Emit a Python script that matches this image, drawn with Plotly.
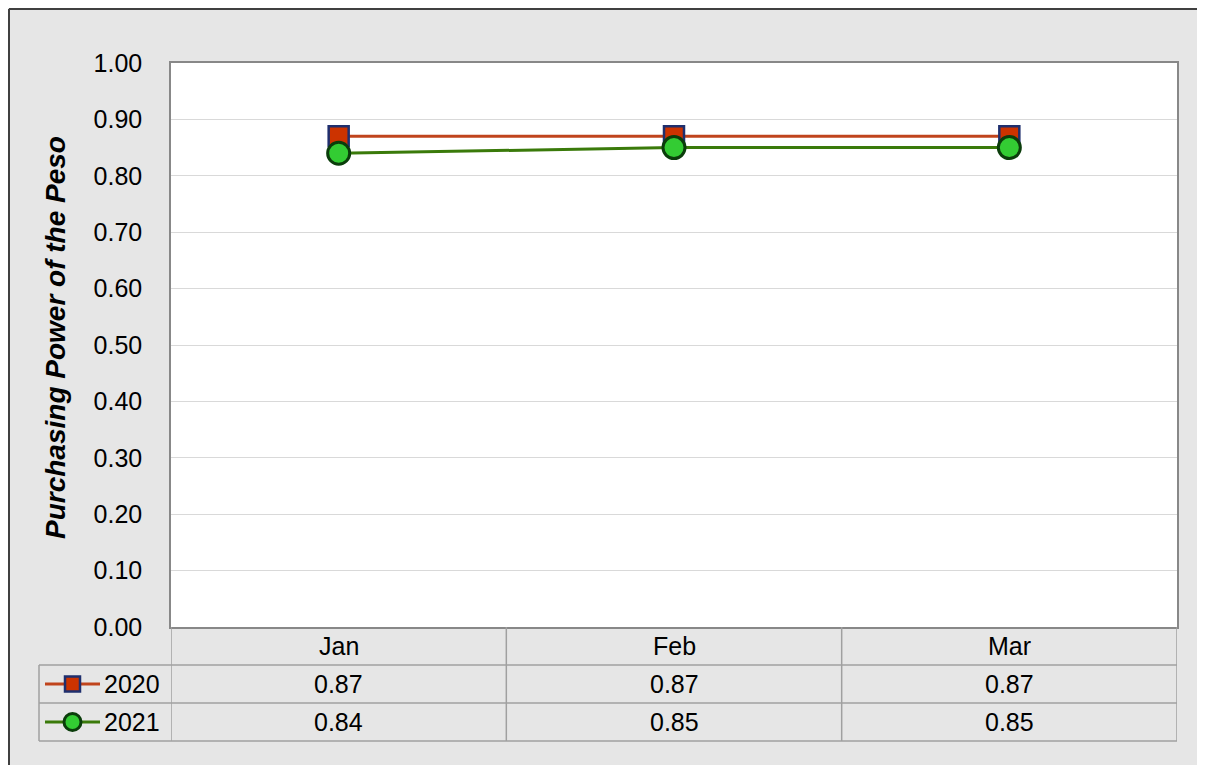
import plotly.graph_objects as go

months = ["Jan", "Feb", "Mar"]
series_names = ["2020", "2021"]
values_2020 = [0.87, 0.87, 0.87]
values_2021 = [0.84, 0.85, 0.85]
y_ticks = [0.0, 0.1, 0.2, 0.3, 0.4, 0.5, 0.6, 0.7, 0.8, 0.9, 1.0]
y_title = "Purchasing Power of the Peso"

OFF = 8  # page body margin
W, H = 1205 - OFF, 765 - OFF
# plot area in screen pixels
SL, SR, ST, SB = 171, 1177, 63, 627
PL, PR, PT, PB = SL - OFF, SR - OFF, ST - OFF, SB - OFF
FONT = "Liberation Sans, Arial, sans-serif"

def px(x):
    return (x - SL) / (SR - SL)

def py(y):
    return (SB - y) / (SB - ST)

c2020_line = "#C0441C"
c2020_fill = "#CC3300"
c2020_edge = "#1F2F6E"
c2021_line = "#3A7A0A"
c2021_fill = "#33CC33"
c2021_edge = "#0B3D0B"

fig = go.Figure()
fig.add_trace(go.Scatter(
    x=list(range(len(months))), y=values_2020, mode="lines+markers", name=series_names[0],
    line=dict(color=c2020_line, width=3),
    marker=dict(symbol="square", size=20, color=c2020_fill, line=dict(color=c2020_edge, width=2.5)),
    showlegend=False))
fig.add_trace(go.Scatter(
    x=list(range(len(months))), y=values_2021, mode="lines+markers", name=series_names[1],
    line=dict(color=c2021_line, width=3),
    marker=dict(symbol="circle", size=22, color=c2021_fill, line=dict(color=c2021_edge, width=3)),
    showlegend=False))

grid = "#A0A0A0"
shapes = []
# outer chart border (left and top)
shapes.append(dict(type="line", xref="paper", yref="paper", x0=px(9), x1=px(9), y0=py(9), y1=py(780),
                   line=dict(color="#404040", width=2)))
shapes.append(dict(type="line", xref="paper", yref="paper", x0=px(9), x1=px(1220), y0=py(9), y1=py(9),
                   line=dict(color="#404040", width=2)))
# table horizontal lines
for yy in [665, 703, 741]:
    shapes.append(dict(type="line", xref="paper", yref="paper", x0=px(39), x1=1, y0=py(yy), y1=py(yy),
                       line=dict(color=grid, width=1.5)))
# table vertical lines
shapes.append(dict(type="line", xref="paper", yref="paper", x0=px(39), x1=px(39), y0=py(665), y1=py(741),
                   line=dict(color=grid, width=1.5)))
for xv in [-0.5, 0.5, 1.5, 2.5]:
    shapes.append(dict(type="line", xref="x", yref="paper", x0=xv, x1=xv, y0=py(627), y1=py(741),
                       line=dict(color=grid, width=1.5)))

TS = 25
annotations = []
# header row
for i, m in enumerate(months):
    annotations.append(dict(x=i, y=py(646), xref="x", yref="paper", text=m, showarrow=False,
                            xanchor="center", yanchor="middle",
                            font=dict(family=FONT, size=TS, color="black")))
# data rows
rows = [(series_names[0], values_2020, 684), (series_names[1], values_2021, 722)]
for name, vals, yc in rows:
    for i, v in enumerate(vals):
        annotations.append(dict(x=i, y=py(yc), xref="x", yref="paper", text=f"{v:.2f}", showarrow=False,
                                xanchor="center", yanchor="middle",
                                font=dict(family=FONT, size=TS, color="black")))
    annotations.append(dict(x=px(102), y=py(yc), xref="paper", yref="paper", text=name, showarrow=False,
                            xanchor="left", yanchor="middle",
                            font=dict(family=FONT, size=TS, color="black")))

# legend glyphs
shapes.append(dict(type="line", xref="paper", yref="paper", x0=px(45), x1=px(100), y0=py(684), y1=py(684),
                   line=dict(color=c2020_line, width=3)))
shapes.append(dict(type="rect", xref="paper", yref="paper", x0=px(65), x1=px(80), y0=py(676.5), y1=py(691.5),
                   fillcolor=c2020_fill, line=dict(color=c2020_edge, width=2.5)))
shapes.append(dict(type="line", xref="paper", yref="paper", x0=px(45), x1=px(100), y0=py(722), y1=py(722),
                   line=dict(color=c2021_line, width=3)))
shapes.append(dict(type="circle", xref="paper", yref="paper", x0=px(64), x1=px(81), y0=py(713.5), y1=py(730.5),
                   fillcolor=c2021_fill, line=dict(color=c2021_edge, width=3)))

# y axis title
annotations.append(dict(x=px(55), y=py(338), xref="paper", yref="paper", text=f"<b><i>{y_title}</i></b>",
                        textangle=-90, showarrow=False, xanchor="center", yanchor="middle",
                        font=dict(family=FONT, size=28, color="black")))

fig.update_layout(
    width=W, height=H,
    margin=dict(l=PL, r=W - PR, t=PT, b=H - PB),
    paper_bgcolor="#E6E6E6", plot_bgcolor="white",
    shapes=shapes, annotations=annotations,
    xaxis=dict(range=[-0.5, 2.5], showticklabels=False, showgrid=False, zeroline=False,
               showline=True, mirror=True, linecolor="#888888", linewidth=1.5, fixedrange=True),
    yaxis=dict(range=[0, 1], tickvals=y_ticks, ticktext=[f"{t:.2f}" for t in y_ticks],
               showgrid=True, gridcolor="#D9D9D9", gridwidth=1, zeroline=False,
               showline=True, mirror=True, linecolor="#888888", linewidth=1.5,
               ticks="", ticklabelstandoff=22,
               tickfont=dict(family=FONT, size=TS, color="black"), fixedrange=True),
    showlegend=False,
)

fig.write_html("out.html")
